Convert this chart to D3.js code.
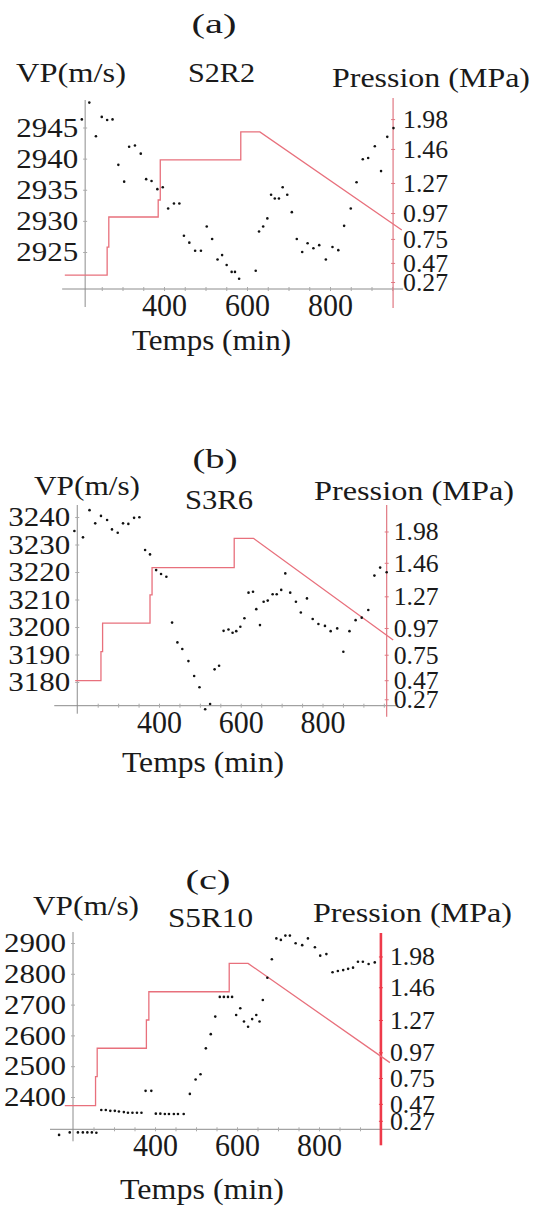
<!DOCTYPE html>
<html><head><meta charset="utf-8">
<script src="https://cdn.jsdelivr.net/npm/d3@7"></script>
<style>html,body{margin:0;padding:0;background:#fff;} svg{display:block;}</style>
</head><body><svg id="chart" width="535" height="1207"></svg>
<script>
// ---------------- data ----------------
const timeTicks = [400, 600, 800];
const pressureTicks = [0.27, 0.47, 0.75, 0.97, 1.27, 1.46, 1.98];

// (a) S2R2
const vpTicksA = [2925, 2930, 2935, 2940, 2945];
const timeA = [202,220,236,250,263,276,290,304,316,330,344,357,370,384,397,410,424,437,448,461,475,489,503,516,529,540,551,563,571,581,621,629,639,649,658,667,677,686,697,708,720,733,746,760,774,790,806,820,834,850,864,879,892,908,923,938,953];
const vpA = [2946.3,2949.0,2943.6,2946.7,2946.2,2946.3,2939.0,2936.3,2941.9,2942.1,2940.8,2936.7,2936.4,2935.1,2935.4,2932.0,2932.8,2932.8,2927.6,2926.5,2925.2,2925.2,2929.1,2927.1,2923.8,2924.5,2922.9,2921.8,2921.8,2920.7,2922.0,2928.3,2929.1,2930.4,2934.2,2933.6,2933.6,2935.4,2934.2,2931.4,2927.1,2925.0,2926.4,2925.6,2926.1,2923.8,2925.8,2925.3,2929.2,2932.0,2936.2,2939.9,2940.1,2942.0,2938.0,2943.5,2944.9];
const pTimeA = [161,263,263,267,267,386,386,391,391,585,585,631,973];
const pValA = [0.343,0.343,0.655,0.655,0.936,0.936,1.10,1.10,1.399,1.399,1.756,1.756,0.825];

// (b) S3R6
const vpTicksB = [3180, 3190, 3200, 3210, 3220, 3230, 3240];
const timeB = [193,214,230,244,258,273,285,299,312,325,339,352,366,378,393,405,418,432,445,457,472,486,499,513,525,536,547,558,570,580,589,599,609,619,630,638,647,656,666,678,688,699,709,721,735,747,762,776,790,806,820,836,851,866,881,896,912,927,941,957];
const vpB = [3234.9,3232.6,3242.5,3237.7,3240.4,3238.9,3235.5,3234.3,3237.7,3237.5,3239.7,3239.9,3228.0,3226.4,3220.7,3219.3,3218.3,3201.6,3194.4,3192.0,3187.6,3182.2,3178.1,3170.1,3172.0,3184.6,3185.9,3198.6,3199.1,3197.9,3198.5,3200.1,3203.2,3212.5,3212.8,3206.5,3200.7,3209.2,3209.6,3211.9,3211.9,3213.5,3219.5,3212.5,3209.2,3205.3,3210.4,3202.9,3201.1,3200.4,3198.5,3199.5,3191.0,3198.5,3202.5,3203.4,3206.2,3218.7,3221.6,3219.9];
const pTimeB = [195,258,258,262,262,378,378,383,383,584,584,631,973];
const pValB = [0.466,0.466,0.775,0.775,1.016,1.016,1.278,1.278,1.433,1.433,1.867,1.867,0.871];

// (c) S5R10
const vpTicksC = [2400, 2500, 2600, 2700, 2800, 2900];
const timeC = [166,192,212,224,235,246,257,269,280,291,302,312,324,334,345,356,367,377,391,402,413,424,434,446,456,470,485,499,511,524,536,547,558,568,578,588,598,608,617,627,637,647,655,663,674,685,696,707,718,729,743,759,773,790,803,818,833,846,859,871,883,895,907,921,936];
const vpC = [2277,2285,2285,2285,2285,2285,2284,2358,2358,2355,2355,2353,2351,2349,2349,2349,2349,2420,2420,2346,2346,2345,2345,2345,2345,2345,2410,2457,2474,2558,2604,2661,2725,2725,2725,2725,2666,2688,2645,2628,2653,2666,2645,2715,2787,2847,2915,2910,2924,2924,2899,2893,2915,2886,2859,2864,2805,2809,2812,2816,2820,2839,2839,2832,2837];
const pTimeC = [180,255,255,259,259,379,379,385,385,581,581,627,973];
const pValC = [0.449,0.449,0.762,0.762,1.008,1.008,1.27,1.27,1.434,1.434,1.863,1.863,0.882];

const panelLabels = ['(a)', '(b)', '(c)'];
const sampleNames = ['S2R2', 'S3R6', 'S5R10'];
const yTitle = 'VP(m/s)';
const pTitle = 'Pression (MPa)';
const xTitle = 'Temps (min)';

// ---------------- layout ----------------
const FONT = "'Liberation Serif', 'Times New Roman', serif";
const layouts = [
  { time: timeA, vp: vpA, pt: pTimeA, pv: pValA, vpTicks: vpTicksA,
    top: 100, base: 289, redTop: 98, extL: 18, extR: 19,
    tRange: [164, 330], tL: 210, tR: 952,
    vpDom: [2925, 2945], vpRange: [252, 127.5],
    pFrac: [0.037,0.138,0.265,0.402,0.561,0.741,0.899],
    title: [214, 33], yT: [16, 82, 110], sT: [188, 82, 67], pT: [332, 87, 198], xT: [132, 350, 159],
    redAxis: '#e07882', redW: 1.2, rOff: 10 },
  { time: timeB, vp: vpB, pt: pTimeB, pv: pValB, vpTicks: vpTicksB,
    top: 505, base: 705.7, redTop: 505, extL: 8, extR: 11,
    tRange: [159, 322.5], tL: 200, tR: 957,
    vpDom: [3180, 3240], vpRange: [682, 517],
    pFrac: [0.032,0.127,0.254,0.387,0.545,0.712,0.868],
    title: [215, 468], yT: [34, 495, 106], sT: [185, 509, 68], pT: [314, 500, 200], xT: [122, 772, 162],
    redAxis: '#e07882', redW: 1.2, rOff: 7 },
  { time: timeC, vp: vpC, pt: pTimeC, pv: pValC, vpTicks: vpTicksC,
    top: 932, base: 1129.3, redTop: 933, extL: 12, extR: 16,
    tRange: [155, 319], tL: 200, tR: 951,
    vpDom: [2400, 2900], vpRange: [1097, 943],
    pFrac: [0.043,0.129,0.260,0.390,0.554,0.720,0.876],
    title: [208, 889], yT: [33, 915, 106], sT: [168, 927, 85], pT: [313, 922, 199], xT: [120, 1199, 164],
    redAxis: '#ee3a4a', redW: 2.6, rOff: 9 }
];

const svg = d3.select('#chart');

function addText(g, s, x, y, size, width, anchor) {
  const t = g.append('text').attr('x', x).attr('y', y)
    .attr('font-family', FONT).attr('font-size', size).attr('fill', '#1a1a1a')
    .attr('text-anchor', anchor || 'start').text(s);
  if (width) t.attr('textLength', width).attr('lengthAdjust', 'spacingAndGlyphs');
  return t;
}

layouts.forEach((P, i) => {
  const g = svg.append('g');
  const x = d3.scaleLinear().domain([timeTicks[0], timeTicks[2]]).range(P.tRange);
  const y = d3.scaleLinear().domain(P.vpDom).range(P.vpRange);
  const h = P.base - P.top;
  const yp = d3.scaleLinear().domain(pressureTicks).range(P.pFrac.map(f => P.base - f * h));
  const xL = x(P.tL), xR = x(P.tR);

  // x axis line and minor ticks
  g.append('line').attr('x1', xL - 23).attr('x2', xR + 10)
    .attr('y1', P.base).attr('y2', P.base).attr('stroke', '#8c8c8c').attr('stroke-width', 1);
  const minor = g.append('g').attr('transform', `translate(0,${P.base})`)
    .call(d3.axisBottom(x).tickValues(d3.range(250, 951, 50)).tickSize(2).tickFormat(''));
  minor.select('.domain').remove();
  minor.selectAll('line').attr('y1', -2).attr('stroke', '#aaa');

  // x tick labels
  const xa = g.append('g').attr('transform', `translate(0,${P.base})`)
    .call(d3.axisBottom(x).tickValues(timeTicks).tickSize(0).tickPadding(0));
  xa.select('.domain').remove();
  xa.attr('font-family', FONT).attr('font-size', 32);
  xa.selectAll('text').attr('y', 27).attr('dy', 0).attr('fill', '#1a1a1a')
    .attr('textLength', 45).attr('lengthAdjust', 'spacingAndGlyphs');

  // left VP axis
  g.append('line').attr('x1', xL).attr('x2', xL).attr('y1', P.top).attr('y2', P.base + P.extL)
    .attr('stroke', '#8c8c8c').attr('stroke-width', 1);
  const ya = g.append('g').attr('transform', `translate(${xL},0)`)
    .call(d3.axisLeft(y).tickValues(P.vpTicks).tickSize(3).tickPadding(4).tickFormat(d3.format('d')));
  ya.select('.domain').remove();
  ya.attr('font-family', FONT).attr('font-size', 27);
  ya.selectAll('line').attr('x2', 2).attr('x1', -2).attr('stroke', '#aaa');
  ya.selectAll('text').attr('fill', '#1a1a1a').attr('x', -7)
    .attr('textLength', 62).attr('lengthAdjust', 'spacingAndGlyphs');

  // right pressure axis
  g.append('line').attr('x1', xR).attr('x2', xR).attr('y1', P.redTop).attr('y2', P.base + P.extR)
    .attr('stroke', P.redAxis).attr('stroke-width', P.redW);
  const pa = g.append('g').attr('transform', `translate(${xR},0)`)
    .call(d3.axisRight(yp).tickValues(pressureTicks).tickSize(2).tickPadding(P.rOff - 2).tickFormat(d3.format('.2f')));
  pa.select('.domain').remove();
  pa.attr('font-family', FONT).attr('font-size', 26);
  pa.selectAll('line').attr('x1', -2).attr('stroke', P.redAxis);
  pa.selectAll('text').attr('fill', '#1a1a1a')
    .attr('textLength', 45).attr('lengthAdjust', 'spacingAndGlyphs');

  // pressure step curve
  const pData = P.pt.map((t, k) => ({ t, p: P.pv[k] }));
  g.append('path').datum(pData)
    .attr('d', d3.line().x(d => x(d.t)).y(d => yp(d.p)))
    .attr('fill', 'none').attr('stroke', '#e8707c').attr('stroke-width', 1.3);

  // VP points
  const vData = P.time.map((t, k) => ({ t, v: P.vp[k] }));
  g.selectAll('circle.pt').data(vData).join('circle').attr('class', 'pt')
    .attr('cx', d => x(d.t)).attr('cy', d => y(d.v)).attr('r', 1.3).attr('fill', '#111');

  // titles
  addText(g, panelLabels[i], P.title[0], P.title[1], 28, 45, 'middle');
  addText(g, yTitle, P.yT[0], P.yT[1], 28, P.yT[2]);
  addText(g, sampleNames[i], P.sT[0], P.sT[1], 28, P.sT[2]);
  addText(g, pTitle, P.pT[0], P.pT[1], 28, P.pT[2]);
  addText(g, xTitle, P.xT[0], P.xT[1], 30, P.xT[2]);
});
</script>
</body></html>
